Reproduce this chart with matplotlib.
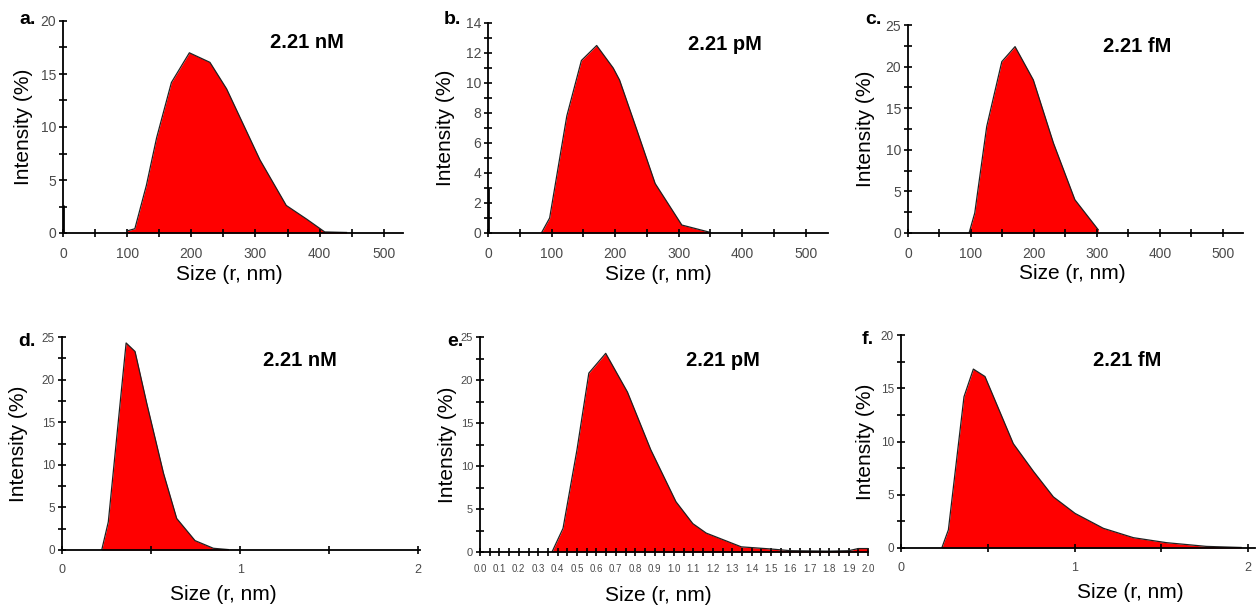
import matplotlib
matplotlib.use('Agg')
import matplotlib.pyplot as plt
from matplotlib.ticker import MultipleLocator, FormatStrFormatter

plt.rcParams['font.family'] = ['Liberation Sans', 'DejaVu Sans']

# panel data (size, intensity %)
size_a = [100, 112, 130, 146, 169, 197, 229, 255, 307, 348, 380, 408, 442]
int_a = [0.2, 0.4, 4.5, 9.0, 14.2, 17.0, 16.1, 13.6, 6.9, 2.6, 1.3, 0.1, 0.05]
spike_a = 2.6

size_b = [84, 97, 124, 147, 171, 197, 207, 234, 263, 305, 349]
int_b = [0.0, 1.0, 7.8, 11.5, 12.5, 11.0, 10.2, 6.9, 3.3, 0.53, 0.05]
spike_b = 3.0

size_c = [97, 106, 125, 149, 170, 199, 231, 265, 302]
int_c = [0.0, 2.4, 12.8, 20.6, 22.4, 18.4, 10.8, 4.0, 0.4]

size_d = [0.223, 0.26, 0.36, 0.41, 0.476, 0.57, 0.644, 0.747, 0.85, 0.934]
int_d = [0.0, 3.3, 24.3, 23.3, 17.2, 9.0, 3.7, 1.1, 0.2, 0.05]

size_e = [0.371, 0.428, 0.50, 0.561, 0.648, 0.76, 0.88, 1.01, 1.097, 1.166,
          1.347, 1.5, 1.6, 1.8, 1.9, 1.95, 2.0]
int_e = [0.0, 2.75, 11.9, 20.8, 23.1, 18.6, 11.9, 5.85, 3.3, 2.2,
         0.6, 0.35, 0.15, 0.1, 0.15, 0.4, 0.4]

size_f = [0.235, 0.273, 0.363, 0.417, 0.484, 0.647, 0.763, 0.878, 1.003,
          1.166, 1.339, 1.53, 1.76, 1.96]
int_f = [0.0, 1.7, 14.2, 16.8, 16.1, 9.8, 7.2, 4.8, 3.25, 1.85, 0.97, 0.5,
         0.15, 0.05]

letters = ['a.', 'b.', 'c.', 'd.', 'e.', 'f.']
concs = ['2.21 nM', '2.21 pM', '2.21 fM', '2.21 nM', '2.21 pM', '2.21 fM']

W, H = 1257, 606
fig = plt.figure(figsize=(W / 100, H / 100), dpi=100)


def px_axes(left, right, top, bottom):
    return fig.add_axes([left / W, 1 - bottom / H, (right - left) / W, (bottom - top) / H])


def style(ax, xlim, ylim, xmaj, xmin, ymaj, ymin, xfs, yfs):
    ax.set_xlim(*xlim)
    ax.set_ylim(*ylim)
    for s in ['top', 'right']:
        ax.spines[s].set_visible(False)
    for s in ['left', 'bottom']:
        ax.spines[s].set_linewidth(1.3)
    ax.xaxis.set_major_locator(MultipleLocator(xmaj))
    ax.xaxis.set_minor_locator(MultipleLocator(xmin))
    ax.yaxis.set_major_locator(MultipleLocator(ymaj))
    ax.yaxis.set_minor_locator(MultipleLocator(ymin))
    ax.tick_params(which='both', direction='inout', length=6, width=1.2, colors='black',
                   labelcolor='#4a4a4a')
    ax.tick_params(axis='x', which='both', pad=7, labelsize=xfs)
    ax.tick_params(axis='y', which='both', pad=2, labelsize=yfs)
    ax.set_xlabel('Size (r, nm)', fontsize=15)
    ax.set_ylabel('Intensity (%)', fontsize=15)


def draw(ax, x, y):
    ax.fill_between(x, y, 0, color='#ff0000', linewidth=0)
    ax.plot(x, y, color='#202020', linewidth=0.9)


# top row
ax_a = px_axes(63, 403, 21, 233)
draw(ax_a, size_a, int_a)
ax_a.vlines(0, 0, spike_a, color='black', linewidth=2)
style(ax_a, (0, 530), (0, 20), 100, 50, 5, 2.5, 10, 10)

ax_b = px_axes(488, 828, 23, 233)
draw(ax_b, size_b, int_b)
ax_b.vlines(0, 0, spike_b, color='black', linewidth=2)
style(ax_b, (0, 535), (0, 14), 100, 50, 2, 1, 10, 10)

ax_c = px_axes(908, 1243, 25, 233)
draw(ax_c, size_c, int_c)
style(ax_c, (0, 532), (0, 25), 100, 50, 5, 2.5, 10, 10)

# bottom row
ax_d = px_axes(62, 420, 337, 550)
draw(ax_d, size_d, int_d)
style(ax_d, (0, 2.01), (0, 25), 1, 0.5, 5, 2.5, 9, 8.5)

ax_e = px_axes(480, 868, 337, 552)
draw(ax_e, size_e, int_e)
style(ax_e, (0, 2.0), (0, 25), 0.1, 0.05, 5, 2.5, 7, 8)
ax_e.xaxis.set_major_formatter(FormatStrFormatter('%.1f'))
ax_e.tick_params(axis='x', which='both', pad=6)

ax_f = px_axes(901, 1255, 335, 548)
draw(ax_f, size_f, int_f)
style(ax_f, (0, 2.04), (0, 20), 1, 0.5, 5, 2.5, 9, 8.5)

axes = [ax_a, ax_b, ax_c, ax_d, ax_e, ax_f]

# label placement: x label centre/top in axes fractions, y label gap in pixels
xlab_pos = [(0.49, -0.15), (0.50, -0.15), (0.49, -0.15),
            (0.45, -0.165), (0.46, -0.16), (0.647, -0.165)]
ylab_off = [30, 33, 33, 34, 23, 26]
for ax, (lx, ly), off in zip(axes, xlab_pos, ylab_off):
    ax.xaxis.set_label_coords(lx, ly)
    bb = ax.get_position()
    ax.yaxis.set_label_coords(-off / (bb.width * W), 0.5)

# concentration labels (pixel centres)
conc_px = [(307, 43), (725, 45), (1137, 47), (300, 360), (723, 360), (1127, 360)]
for (cx, cy), txt in zip(conc_px, concs):
    fig.text(cx / W, 1 - cy / H, txt, fontsize=14.5, fontweight='bold',
             ha='center', va='center')

letter_px = [(28, 20), (452, 19), (873, 19), (27, 342), (455, 342), (868, 340)]
for (lx, ly), txt in zip(letter_px, letters):
    fig.text(lx / W, 1 - ly / H, txt, fontsize=14, fontweight='bold',
             ha='center', va='center')

fig.savefig('out.png', dpi=100)
